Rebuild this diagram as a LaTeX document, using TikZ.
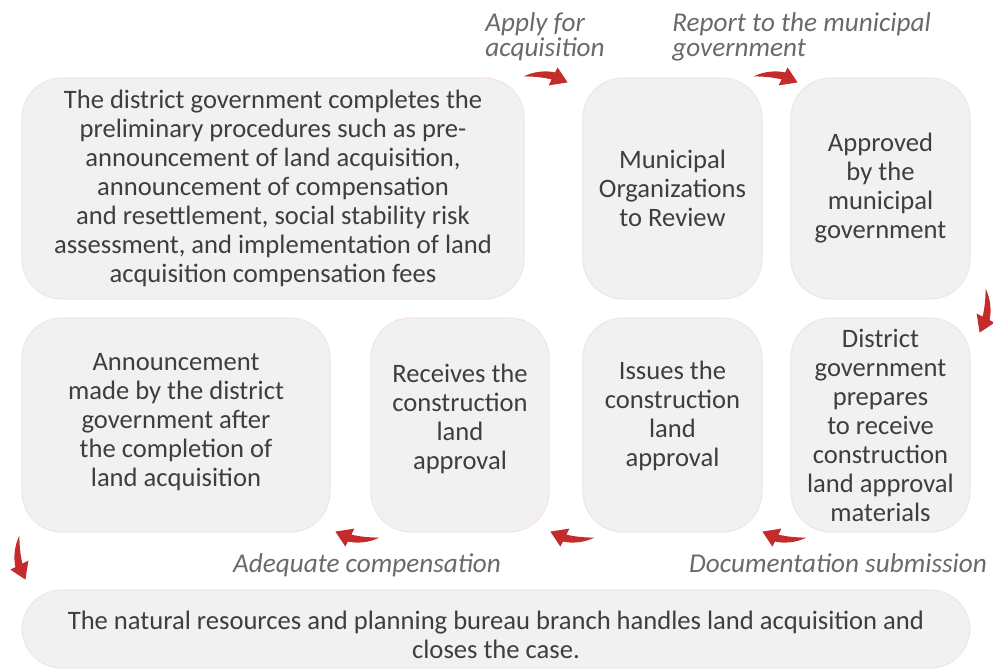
\documentclass[tikz,border=0pt]{standalone}
\usepackage{fontspec}
\setmainfont{Carlito}
\usetikzlibrary{calc}
\definecolor{boxfill}{HTML}{F2F1F2}
\definecolor{boxline}{HTML}{F6E3E6}
\definecolor{bodytext}{HTML}{3E3E3E}
\definecolor{notetext}{HTML}{6A6A6A}
\definecolor{turnred}{HTML}{C62B2B}

\begin{document}
\begin{tikzpicture}[x=0.5pt,y=-0.5pt,
        stage/.style={draw=boxline, fill=boxfill, line width=0.6pt, rounded corners=20pt,
            align=center, text=bodytext, inner sep=0pt,
            font=\fontsize{13.3}{14.5}\selectfont},
        note/.style={text=notetext, align=left, inner sep=0pt,
            font=\fontsize{13.6}{12.5}\selectfont\itshape},
        turn/.pic={\fill[turnred] (0,0) .. controls (10,-5) and (22,-6) .. (31.5,-4)
            -- (34,-9) -- (44,6) -- (25,9) -- (28,3) .. controls (20,1) and (10,0) .. (0,0) -- cycle;}]
                \useasboundingbox (0,0) rectangle (993,670);
                % first row
                \node[stage, minimum width=251pt, minimum height=110.5pt] (prelim) at (273,188.5)
                    {The district government completes the\\ preliminary procedures such as pre-\\
                     announcement of land acquisition,\\ announcement of compensation\\
                     and resettlement, social stability risk\\ assessment, and implementation of land\\
                     acquisition compensation fees};
                \node[stage, minimum width=89.5pt, minimum height=110.5pt] (review) at (672.5,188.5)
                    {Municipal\\ Organizations\\ to Review};
                \node[stage, minimum width=89.5pt, minimum height=110.5pt] (approved) at (880.5,188.5)
                    {Approved\\ by the\\ municipal\\ government};
                % second row
                \node[stage, minimum width=154pt, minimum height=107pt] (announce) at (176,425)
                    {Announcement\\ made by the district\\ government after\\ the completion of\\ land acquisition\\[-9.5pt]};
                \node[stage, minimum width=89pt, minimum height=107pt] (receives) at (460,425)
                    {Receives the\\ construction\\ land\\ approval\\[-6.5pt]};
                \node[stage, minimum width=89.5pt, minimum height=107pt] (issues) at (672.5,425)
                    {Issues the\\ construction\\ land\\ approval\\[-3pt]};
                \node[stage, minimum width=89.5pt, minimum height=107pt] (prepares) at (880.5,425)
                    {District\\ government\\ prepares\\ to receive\\ construction\\ land approval\\ materials};
                % last row
                \node[stage, minimum width=474pt, minimum height=39pt] (closes) at (496,629)
                    {\\[1pt]The natural resources and planning bureau branch handles land acquisition and\\ closes the case.};
                % notes
                \node[note, anchor=north west] (apply) at (485,12) {Apply for\\ acquisition};
                \node[note, anchor=north west] (report) at (672,12) {Report to the municipal\\ government};
                \node[note] (adequate) at (367,565) {Adequate compensation};
                \node[note] (submission) at (838,563) {Documentation submission};
                % turning arrows
                \pic at ($(prelim.north east)+(-1,-1)$) {turn};
                \pic at ($(review.north east)+(-9,-1)$) {turn};
                \pic[rotate=-90] at ($(approved.south east)+(15,-11)$) {turn};
                \pic[rotate=180] at ($(prepares.south west)+(16,5)$) {turn};
                \pic[rotate=180] at ($(issues.south west)+(12,5)$) {turn};
                \pic[rotate=180] at ($(receives.south west)+(9,5)$) {turn};
                \pic[xscale=-1, rotate=-90] at ($(announce.south west)+(-2,3)$) {turn};
            \end{tikzpicture}
\end{document}
